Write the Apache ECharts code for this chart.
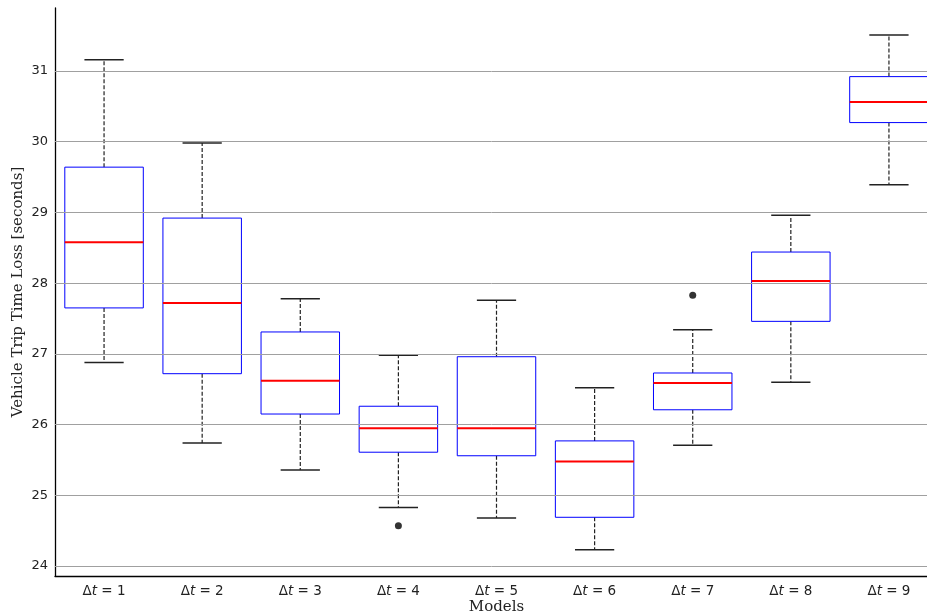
<!DOCTYPE html>
<html>
<head>
<meta charset="utf-8">
<script src="https://cdn.jsdelivr.net/npm/echarts@6/dist/echarts.min.js"></script>
<style>
  html, body { margin: 0; padding: 0; background: #fff; }
  #chart { width: 927px; height: 616px; }
</style>
</head>
<body>
<div id="chart"></div>
<script>
// models on the x axis
const models = ['1', '2', '3', '4', '5', '6', '7', '8', '9'];
// box stats per model: [lower whisker, Q1, median, Q3, upper whisker]
const lowWhisker = [26.88, 25.74, 25.36, 24.83, 24.68, 24.23, 25.71, 26.60, 29.39];
const q1 = [27.65, 26.72, 26.15, 25.61, 25.56, 24.69, 26.21, 27.46, 30.27];
const median = [28.58, 27.72, 26.62, 25.95, 25.95, 25.48, 26.59, 28.03, 30.56];
const q3 = [29.64, 28.92, 27.31, 26.26, 26.96, 25.77, 26.73, 28.44, 30.92];
const highWhisker = [31.16, 29.98, 27.78, 26.98, 27.76, 26.52, 27.34, 28.96, 31.51];
// fliers: [model index, value]
const outliers = [[3, 24.57], [6, 27.83]];
const yTicks = [24, 25, 26, 27, 28, 29, 30, 31];

const boxData = models.map((m, i) => [i, lowWhisker[i], q1[i], median[i], q3[i], highWhisker[i]]);

const chart = echarts.init(document.getElementById('chart'));

function renderBox(params, api) {
  const x = api.value(0);
  const pLow = api.coord([x, api.value(1)]);
  const pQ1 = api.coord([x, api.value(2)]);
  const pMed = api.coord([x, api.value(3)]);
  const pQ3 = api.coord([x, api.value(4)]);
  const pHigh = api.coord([x, api.value(5)]);
  const band = api.size([1, 0])[0];
  const bw = band * 0.8;
  const cw = band * 0.4;
  const cx = pMed[0];
  const dash = { stroke: '#222', lineWidth: 1.2, lineDash: [4, 2] };
  const cap = { stroke: '#222', lineWidth: 1.5 };
  return {
    type: 'group',
    children: [
      { type: 'line', shape: { x1: cx, y1: pQ3[1], x2: cx, y2: pHigh[1] }, style: dash },
      { type: 'line', shape: { x1: cx, y1: pQ1[1], x2: cx, y2: pLow[1] }, style: dash },
      { type: 'line', shape: { x1: cx - cw / 2, y1: pHigh[1], x2: cx + cw / 2, y2: pHigh[1] }, style: cap },
      { type: 'line', shape: { x1: cx - cw / 2, y1: pLow[1], x2: cx + cw / 2, y2: pLow[1] }, style: cap },
      {
        type: 'rect',
        shape: { x: cx - bw / 2, y: pQ3[1], width: bw, height: pQ1[1] - pQ3[1] },
        style: { fill: '#fff', stroke: '#0000ff', lineWidth: 1 }
      },
      { type: 'line', shape: { x1: cx - bw / 2, y1: pMed[1], x2: cx + bw / 2, y2: pMed[1] }, style: { stroke: '#ff0000', lineWidth: 2 } }
    ]
  };
}

chart.setOption({
  animation: false,
  grid: { left: 55, right: -11, top: 8, bottom: 40, containLabel: false, outerBoundsMode: 'none' },
  xAxis: {
    type: 'category',
    data: models,
    name: 'Models',
    nameLocation: 'middle',
    nameGap: 24,
    nameMoveOverlap: false,
    nameTextStyle: { fontFamily: 'DejaVu Serif', fontSize: 15, color: '#222' },
    axisLine: { lineStyle: { color: '#000', width: 1.3 } },
    axisTick: { show: false },
    axisLabel: {
      interval: 0,
      margin: 8,
      formatter: v => '{d|Δ}{t|t}{d| = ' + v + '}',
      rich: {
        d: { fontFamily: 'DejaVu Sans', fontSize: 13.5, color: '#222' },
        t: { fontFamily: 'DejaVu Sans', fontStyle: 'italic', fontSize: 13.5, color: '#222' }
      }
    },
    splitLine: { show: false }
  },
  yAxis: {
    type: 'value',
    min: 23.86,
    max: 31.89,
    name: 'Vehicle Trip Time Loss [seconds]',
    nameLocation: 'middle',
    nameGap: 29,
    nameMoveOverlap: false,
    nameTextStyle: { fontFamily: 'DejaVu Serif', fontSize: 15, color: '#222' },
    axisLine: { show: true, lineStyle: { color: '#000', width: 1.3 } },
    axisTick: { show: false },
    axisLabel: {
      customValues: yTicks,
      margin: 7,
      fontFamily: 'DejaVu Sans',
      fontSize: 13,
      color: '#222'
    },
    splitLine: { show: false }
  },
  series: [
    {
      type: 'line',
      data: [],
      z: 1,
      silent: true,
      markLine: {
        silent: true,
        symbol: 'none',
        label: { show: false },
        lineStyle: { color: '#a0a0a0', type: 'solid', width: 1 },
        data: yTicks.map(v => ({ yAxis: v }))
      }
    },
    {
      type: 'custom',
      z: 3,
      renderItem: renderBox,
      encode: { x: 0, y: [1, 2, 3, 4, 5] },
      data: boxData
    },
    {
      type: 'scatter',
      z: 4,
      symbol: 'circle',
      symbolSize: 7,
      itemStyle: { color: '#000' },
      data: outliers
    }
  ]
});
</script>
</body>
</html>
